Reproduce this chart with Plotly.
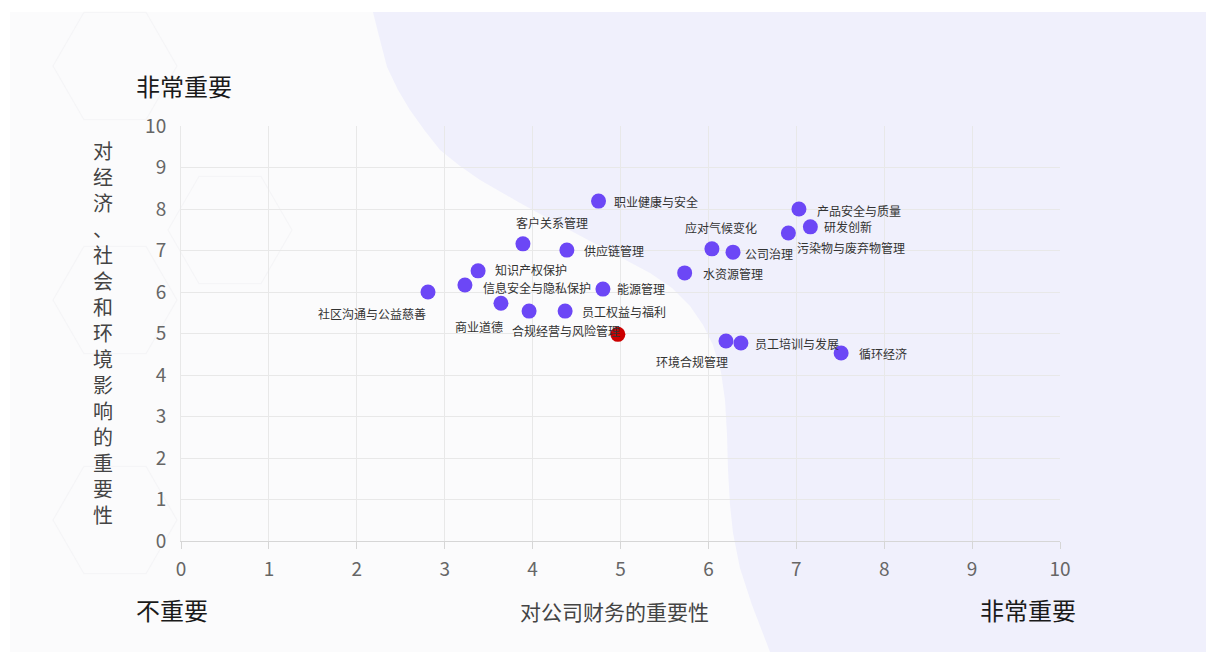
import plotly.graph_objects as go

# ---- data ----
topics = ["职业健康与安全", "客户关系管理", "供应链管理", "知识产权保护", "信息安全与隐私保护",
          "社区沟通与公益慈善", "能源管理", "商业道德", "合规经营与风险管理", "员工权益与福利",
          "应对气候变化", "公司治理", "水资源管理", "产品安全与质量", "研发创新",
          "污染物与废弃物管理", "环境合规管理", "员工培训与发展", "循环经济"]
finance_importance = [4.75, 3.89, 4.39, 3.38, 3.23,
                      2.81, 4.80, 3.64, 3.96, 4.37,
                      6.04, 6.28, 5.73, 7.03, 7.16,
                      6.91, 6.20, 6.37, 7.51]
impact_importance = [8.19, 7.16, 7.01, 6.51, 6.17,
                     6.00, 6.07, 5.73, 5.54, 5.54,
                     7.04, 6.96, 6.46, 8.00, 7.57,
                     7.42, 4.82, 4.77, 4.53]
center_x = [4.97]
center_y = [4.98]
tick_values = list(range(0, 11))

# label placement (style only): anchor, x shift px, y shift px
label_style = [("left", 13, 0), ("center", 29, 21), ("left", 15, 0), ("left", 15, 1), ("left", 16, -3),
               ("right", 0, -21), ("left", 12, 1), ("right", 4, -23), ("left", -19, -19), ("left", 15, 0),
               ("center", 9, 21), ("left", 10, -1), ("left", 16, -1), ("left", 16, -1), ("left", 12, 0),
               ("left", 7, -14), ("right", 4, -21), ("left", 12, 0), ("left", 16, 0)]

# page geometry (browser adds an 8px body margin)
PAGE_W, PAGE_H, OFF = 1214, 654, 8
PL, PR, PT, PB = 181, 1060, 126, 541
W, H = PAGE_W - OFF, PAGE_H - OFF
pw, ph = PR - PL, PB - PT

def px(x):
    return (x - PL) / pw

def py(y):
    return (PB - y) / ph

CJK = "Noto Sans CJK SC, Noto Sans, sans-serif"

fig = go.Figure()

fig.add_trace(go.Scatter(
    x=finance_importance, y=impact_importance, mode="markers",
    text=topics, marker=dict(size=15, color="#6c47f6"),
    hoverinfo="text", showlegend=False, cliponaxis=False))

fig.add_trace(go.Scatter(
    x=center_x, y=center_y, mode="markers",
    marker=dict(size=15, color="#cc0000"),
    showlegend=False, cliponaxis=False))

# background card
shapes = [dict(type="rect", xref="paper", yref="paper", layer="below",
               x0=px(10), x1=px(PAGE_W + 2), y0=py(652), y1=py(12),
               fillcolor="#fbfbfc", line=dict(width=0))]

# lavender blob
blob = [(373, 12), (380, 40), (387, 67), (398, 90), (410, 110), (425, 131), (440, 150),
        (460, 166), (480, 180), (520, 203), (560, 225), (605, 249), (650, 273),
        (672, 288), (690, 306), (703, 325), (713, 345), (721, 372), (725, 400),
        (727, 435), (728, 470), (730, 505), (733, 533), (740, 568), (752, 605),
        (770, 652), (PAGE_W + 2, 652), (PAGE_W + 2, 12)]
path = "M " + " L ".join(f"{px(a):.4f},{py(b):.4f}" for a, b in blob) + " Z"
shapes.append(dict(type="path", xref="paper", yref="paper", layer="below",
                   path=path, fillcolor="#f0f0fc", line=dict(width=0)))

# faint hexagon pattern on the left of the card
def hexagon(cx, cy, r):
    pts = [(cx - r, cy), (cx - r / 2, cy - r * 0.866), (cx + r / 2, cy - r * 0.866),
           (cx + r, cy), (cx + r / 2, cy + r * 0.866), (cx - r / 2, cy + r * 0.866)]
    return "M " + " L ".join(f"{px(a):.4f},{py(b):.4f}" for a, b in pts) + " Z"

for cx, cy in [(115, 66), (115, 300), (230, 230), (115, 520)]:
    shapes.append(dict(type="path", xref="paper", yref="paper", layer="below",
                       path=hexagon(cx, cy, 62), fillcolor="rgba(0,0,0,0)",
                       line=dict(color="#f5f5f7", width=1.2)))

annotations = []
for name, xv, yv, (anc, dx, dy) in zip(topics, finance_importance, impact_importance, label_style):
    annotations.append(dict(text=name, x=xv, y=yv, xref="x", yref="y",
                            xanchor=anc, yanchor="middle", xshift=dx, yshift=dy,
                            showarrow=False,
                            font=dict(family=CJK, size=12, color="#333333")))

annotations += [
    dict(text="非常重要", x=px(134), y=py(86), xref="paper", yref="paper",
         xanchor="left", yanchor="middle", showarrow=False,
         font=dict(family=CJK, size=24, color="#1a1a1a")),
    dict(text="不重要", x=px(134), y=py(609), xref="paper", yref="paper",
         xanchor="left", yanchor="middle", showarrow=False,
         font=dict(family=CJK, size=24, color="#1a1a1a")),
    dict(text="非常重要", x=px(1078), y=py(609), xref="paper", yref="paper",
         xanchor="right", yanchor="middle", showarrow=False,
         font=dict(family=CJK, size=24, color="#1a1a1a")),
    dict(text="对公司财务的重要性", x=px(614), y=py(611), xref="paper", yref="paper",
         xanchor="center", yanchor="middle", showarrow=False,
         font=dict(family=CJK, size=21, color="#444444")),
    dict(text="<br>".join(list("对经济、社会和环境影响的重要性")), x=px(103), y=py(332),
         xref="paper", yref="paper", xanchor="center", yanchor="middle", showarrow=False,
         align="center", font=dict(family=CJK, size=20, color="#444444")),
]

fig.update_layout(
    width=W, height=H,
    margin=dict(l=PL - OFF, r=PAGE_W - PR, t=PT - OFF, b=PAGE_H - PB),
    paper_bgcolor="#ffffff", plot_bgcolor="rgba(0,0,0,0)",
    shapes=shapes, annotations=annotations,
    xaxis=dict(range=[0, 10], tickvals=tick_values, showgrid=True, gridcolor="#e8e8e8",
               gridwidth=1, zeroline=False, showline=True, linecolor="#d6d6d6",
               ticks="outside", ticklen=7, tickcolor="#d6d6d6", ticklabelstandoff=4,
               tickfont=dict(family=CJK, size=19, color="#666666"), fixedrange=True),
    yaxis=dict(range=[0, 10], tickvals=tick_values, showgrid=True, gridcolor="#e8e8e8",
               gridwidth=1, zeroline=False, showline=True, linecolor="#e8e8e8",
               ticks="", ticklabelstandoff=10,
               tickfont=dict(family=CJK, size=19, color="#666666"), fixedrange=True),
    font=dict(family=CJK),
)

fig.write_html("out.html")
